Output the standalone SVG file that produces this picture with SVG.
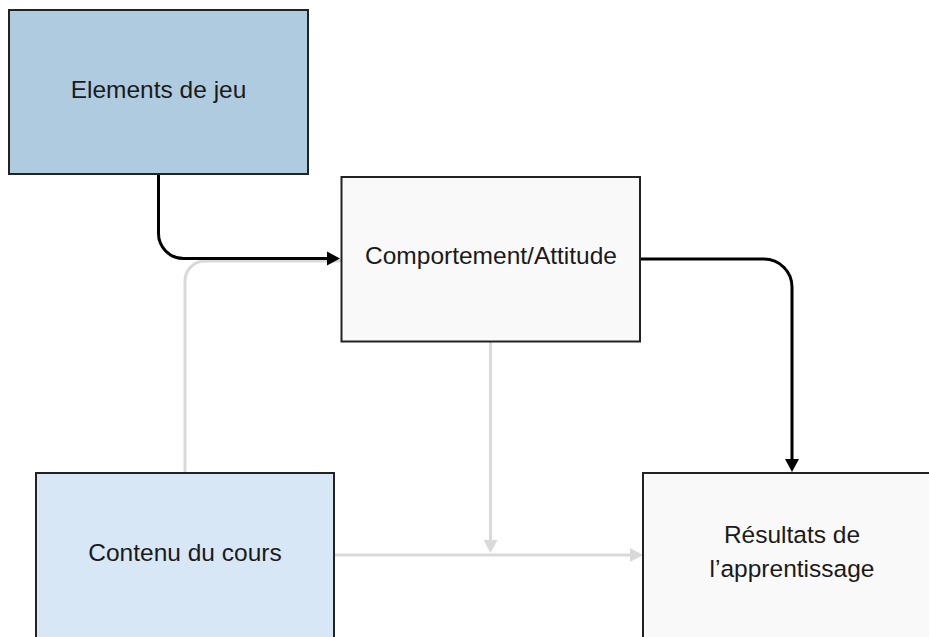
<svg xmlns="http://www.w3.org/2000/svg" width="929" height="637" viewBox="0 0 929 637">
<style>
.box{stroke:#222;stroke-width:2}
.lbl{font-family:"Liberation Sans",Arial,sans-serif;font-size:24.5px;fill:#1a1a1a;text-anchor:middle}
.blk{fill:none;stroke:#000;stroke-width:3}
.gry{fill:none;stroke:#d9d9d9;stroke-width:3}
</style>
<defs>
<marker id="ab" markerUnits="userSpaceOnUse" markerWidth="14" markerHeight="16" refX="2" refY="8" orient="auto" viewBox="0 0 14 16">
<path d="M0,1 L13,8 L0,15 z" fill="#000"/>
</marker>
<marker id="ag" markerUnits="userSpaceOnUse" markerWidth="14" markerHeight="16" refX="2" refY="8" orient="auto" viewBox="0 0 14 16">
<path d="M0,1 L13,8 L0,15 z" fill="#d9d9d9"/>
</marker>
</defs>
<rect width="929" height="637" fill="#fff"/>
<g id="connectors">
<path class="gry" d="M185,473 V281 A20,20 0 0 1 205,261 H341"/>
<path class="gry" d="M490.5,342 V542" marker-end="url(#ag)"/>
<path class="gry" d="M334,555 H632" marker-end="url(#ag)"/>
<path class="blk" d="M158.5,175 V233 A25,25 0 0 0 183.5,258.5 H329" marker-end="url(#ab)"/>
<path class="blk" d="M640,259 H764 A28,28 0 0 1 792,287 V461" marker-end="url(#ab)"/>
</g>
<g id="elements">
<rect class="box" x="9" y="10" width="299" height="164" fill="#afcbe0"/>
<text class="lbl" x="158.5" y="98">Elements de jeu</text>
</g>
<g id="comportement">
<rect class="box" x="341.5" y="177" width="298.5" height="164.5" fill="#f9f9f9"/>
<text class="lbl" x="491" y="264">Comportement/Attitude</text>
</g>
<g id="contenu">
<rect class="box" x="36" y="473" width="298" height="170" fill="#d7e7f6"/>
<text class="lbl" x="185" y="561">Contenu du cours</text>
</g>
<g id="resultats">
<rect class="box" x="643" y="473" width="298" height="170" fill="#f9f9f9"/>
<text class="lbl" x="792" y="543">Résultats de</text>
<text class="lbl" x="792" y="577">l’apprentissage</text>
</g>
</svg>
